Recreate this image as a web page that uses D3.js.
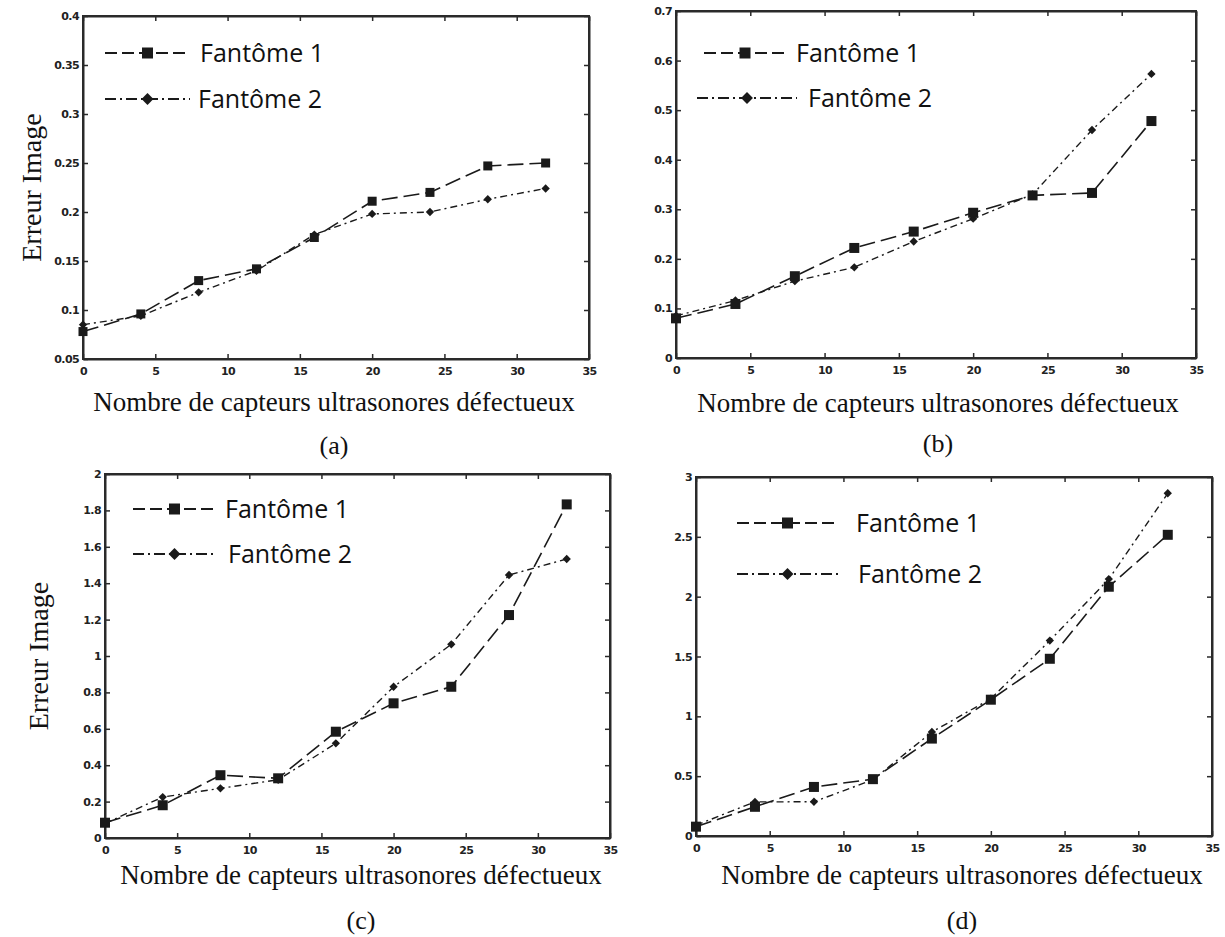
<!DOCTYPE html>
<html>
<head>
<meta charset="utf-8">
<script src="https://cdn.jsdelivr.net/npm/d3@7"></script>
<style>
  html, body { margin: 0; padding: 0; background: #fff; }
  svg { display: block; }
  .tick-label { font-family: "DejaVu Sans", sans-serif; font-weight: bold; font-size: 11px; fill: #222; letter-spacing: -0.6px; }
  .serif { font-family: "Liberation Serif", "Times New Roman", serif; fill: #111; }
  .legend-text { font-family: "Open Sans", "Noto Sans", sans-serif; fill: #111; }
</style>
</head>
<body>
<svg id="chart" width="1225" height="937"></svg>
<script>
// Number of defective ultrasonic sensors (x values of every curve)
const sensors = [0, 4, 8, 12, 16, 20, 24, 28, 32];
const xTickValues = [0, 5, 10, 15, 20, 25, 30, 35];

// Image error, panel (a)
const errA1 = [0.078, 0.096, 0.130, 0.142, 0.174, 0.211, 0.220, 0.247, 0.250];
const errA2 = [0.085, 0.094, 0.118, 0.140, 0.177, 0.198, 0.200, 0.213, 0.224];
const yTicksA = [0.05, 0.1, 0.15, 0.2, 0.25, 0.3, 0.35, 0.4];
const yLabelsA = ["0.05", "0.1", "0.15", "0.2", "0.25", "0.3", "0.35", "0.4"];

// Image error, panel (b)
const errB1 = [0.080, 0.109, 0.165, 0.222, 0.255, 0.293, 0.328, 0.333, 0.478];
const errB2 = [0.085, 0.116, 0.155, 0.183, 0.235, 0.281, 0.330, 0.460, 0.573];
const yTicksB = [0, 0.1, 0.2, 0.3, 0.4, 0.5, 0.6, 0.7];
const yLabelsB = ["0", "0.1", "0.2", "0.3", "0.4", "0.5", "0.6", "0.7"];

// Image error, panel (c)
const errC1 = [0.084, 0.180, 0.345, 0.328, 0.584, 0.740, 0.831, 1.225, 1.833];
const errC2 = [0.080, 0.225, 0.273, 0.320, 0.520, 0.831, 1.064, 1.445, 1.533];
const yTicksC = [0, 0.2, 0.4, 0.6, 0.8, 1, 1.2, 1.4, 1.6, 1.8, 2];
const yLabelsC = ["0", "0.2", "0.4", "0.6", "0.8", "1", "1.2", "1.4", "1.6", "1.8", "2"];

// Image error, panel (d)
const errD1 = [0.078, 0.244, 0.410, 0.475, 0.814, 1.139, 1.481, 2.083, 2.517];
const errD2 = [0.090, 0.285, 0.286, 0.470, 0.869, 1.147, 1.633, 2.147, 2.864];
const yTicksD = [0, 0.5, 1, 1.5, 2, 2.5, 3];
const yLabelsD = ["0", "0.5", "1", "1.5", "2", "2.5", "3"];

const seriesNames = ["Fantôme 1", "Fantôme 2"];
const xTitle = "Nombre de capteurs ultrasonores défectueux";
const yTitle = "Erreur Image";

// Page layout of the four sub-figures
const panels = [
  { tag: "(a)", s1: errA1, s2: errA2, yt: yTicksA, yl: yLabelsA,
    box: { l: 83, r: 589, t: 16, b: 359 }, titleX: 334, titleY: 402, tagY: 445,
    leg: { x1: 105, x2: 190, y1: 53, y2: 99, tx1: 200, tx2: 198 }, ylabX: 31, msq: 9 },
  { tag: "(b)", s1: errB1, s2: errB2, yt: yTicksB, yl: yLabelsB,
    box: { l: 676, r: 1196, t: 11, b: 358 }, titleX: 938, titleY: 403, tagY: 443,
    leg: { x1: 704, x2: 786, y1: 53, y2: 98, tx1: 796, tx2: 808, l2a: 697, l2b: 797 }, ylabX: null, msq: 10 },
  { tag: "(c)", s1: errC1, s2: errC2, yt: yTicksC, yl: yLabelsC,
    box: { l: 105, r: 610, t: 474, b: 838 }, titleX: 361, titleY: 875, tagY: 920,
    leg: { x1: 133, x2: 216, y1: 509, y2: 554, tx1: 225, tx2: 228 }, ylabX: 38, msq: 10 },
  { tag: "(d)", s1: errD1, s2: errD2, yt: yTicksD, yl: yLabelsD,
    box: { l: 696, r: 1212, t: 477, b: 836 }, titleX: 962, titleY: 875, tagY: 920,
    leg: { x1: 737, x2: 838, y1: 523, y2: 574, tx1: 856, tx2: 858 }, ylabX: null, msq: 10 }
];

const dash1 = "16,6";
const dash2 = "7,4,2,4";
const ink = "#1a1a1a";

const svg = d3.select("#chart");

function squareMarker(g, x, y, size) {
  g.append("rect").attr("x", x - size / 2).attr("y", y - size / 2)
    .attr("width", size).attr("height", size).attr("fill", ink);
}
function diamondMarker(g, x, y, size) {
  g.append("path")
    .attr("d", d3.symbol().type(d3.symbolDiamond2).size(size * size * 0.9)())
    .attr("transform", `translate(${x},${y})`).attr("fill", ink);
}

panels.forEach(p => {
  const g = svg.append("g");
  const yMin = p.yt[0], yMax = p.yt[p.yt.length - 1];
  const x = d3.scaleLinear().domain([0, 35]).range([p.box.l, p.box.r]);
  const y = d3.scaleLinear().domain([yMin, yMax]).range([p.box.b, p.box.t]);

  // axes: ticks point inward on all four sides, labels on bottom/left
  const tickLen = 5;
  const bottom = g.append("g").attr("transform", `translate(0,${p.box.b})`)
    .call(d3.axisBottom(x).tickValues(xTickValues).tickSizeInner(-tickLen).tickSizeOuter(0).tickPadding(6).tickFormat(d3.format("d")));
  const top = g.append("g").attr("transform", `translate(0,${p.box.t})`)
    .call(d3.axisTop(x).tickValues(xTickValues).tickSizeInner(-tickLen).tickSizeOuter(0).tickFormat(""));
  const left = g.append("g").attr("transform", `translate(${p.box.l},0)`)
    .call(d3.axisLeft(y).tickValues(p.yt).tickSizeInner(-tickLen).tickSizeOuter(0).tickPadding(4)
      .tickFormat((d, i) => p.yl[i]));
  const right = g.append("g").attr("transform", `translate(${p.box.r},0)`)
    .call(d3.axisRight(y).tickValues(p.yt).tickSizeInner(-tickLen).tickSizeOuter(0).tickFormat(""));

  [bottom, top, left, right].forEach(a => {
    a.select(".domain").attr("stroke", "#2a2a2a").attr("stroke-width", 2);
    a.selectAll(".tick line").attr("stroke", "#2a2a2a").attr("stroke-width", 1.5);
    a.selectAll("text").attr("class", "tick-label").attr("font-size", null).attr("font-family", null);
  });
  bottom.selectAll("text").attr("dy", "0.9em");

  // closed plot frame
  g.append("rect").attr("x", p.box.l).attr("y", p.box.t)
    .attr("width", p.box.r - p.box.l).attr("height", p.box.b - p.box.t)
    .attr("fill", "none").attr("stroke", "#2a2a2a").attr("stroke-width", 2);

  // curves
  const line = d3.line().x((d, i) => x(sensors[i])).y(d => y(d));
  g.append("path").datum(p.s1).attr("d", line).attr("fill", "none")
    .attr("stroke", ink).attr("stroke-width", 1.6).attr("stroke-dasharray", dash1);
  g.append("path").datum(p.s2).attr("d", line).attr("fill", "none")
    .attr("stroke", ink).attr("stroke-width", 1.4).attr("stroke-dasharray", dash2);
  p.s2.forEach((v, i) => diamondMarker(g, x(sensors[i]), y(v), 7));
  p.s1.forEach((v, i) => squareMarker(g, x(sensors[i]), y(v), p.msq));

  // legend
  const L = p.leg;
  const l2a = L.l2a !== undefined ? L.l2a : L.x1;
  const l2b = L.l2b !== undefined ? L.l2b : L.x2;
  g.append("line").attr("x1", L.x1).attr("x2", L.x2).attr("y1", L.y1).attr("y2", L.y1)
    .attr("stroke", ink).attr("stroke-width", 1.8).attr("stroke-dasharray", "12,5");
  squareMarker(g, (L.x1 + L.x2) / 2, L.y1, 11);
  g.append("text").attr("class", "legend-text").attr("x", L.tx1).attr("y", L.y1)
    .attr("dy", "0.36em").attr("font-size", 25).text(seriesNames[0]);
  g.append("line").attr("x1", l2a).attr("x2", l2b).attr("y1", L.y2).attr("y2", L.y2)
    .attr("stroke", ink).attr("stroke-width", 1.8).attr("stroke-dasharray", "11,4,2,4");
  diamondMarker(g, (l2a + l2b) / 2, L.y2, 10);
  g.append("text").attr("class", "legend-text").attr("x", L.tx2).attr("y", L.y2)
    .attr("dy", "0.36em").attr("font-size", 25).text(seriesNames[1]);

  // titles
  g.append("text").attr("class", "serif").attr("x", p.titleX).attr("y", p.titleY)
    .attr("dy", "0.35em").attr("text-anchor", "middle").attr("font-size", 27).text(xTitle);
  g.append("text").attr("class", "serif").attr("x", p.titleX).attr("y", p.tagY)
    .attr("dy", "0.35em").attr("text-anchor", "middle").attr("font-size", 26).text(p.tag);
  if (p.ylabX !== null) {
    const cy = (p.box.t + p.box.b) / 2;
    g.append("text").attr("class", "serif")
      .attr("transform", `translate(${p.ylabX},${cy}) rotate(-90)`)
      .attr("dy", "0.35em").attr("text-anchor", "middle").attr("font-size", 28).text(yTitle);
  }
});
</script>
</body>
</html>
